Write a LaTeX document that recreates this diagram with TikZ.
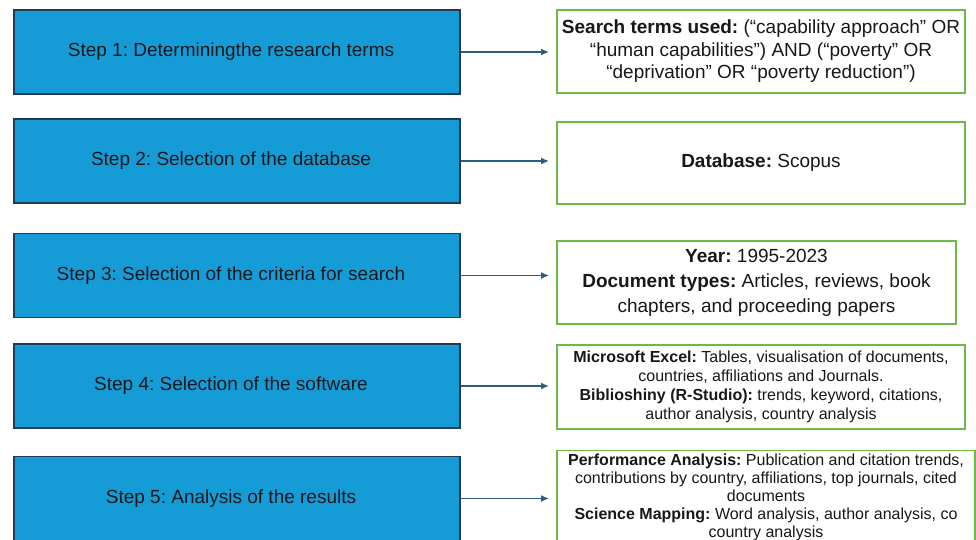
\documentclass[tikz,border=0pt]{standalone}
\usepackage{fontspec}
\setmainfont{Liberation Sans}
\usetikzlibrary{arrows.meta}
\frenchspacing

\definecolor{stepblue}{HTML}{159CD6}
\definecolor{stepedge}{HTML}{1F3B57}
\definecolor{infogreen}{HTML}{6BB947}
\definecolor{flowblue}{HTML}{2C5D80}
\definecolor{inktext}{HTML}{16181C}

\begin{document}
\begin{tikzpicture}[x=1pt, y=-1pt,
  stepbox/.style={draw=stepedge, line width=1.4pt, fill=stepblue, text=inktext,
    minimum width=446pt, minimum height=84pt, inner sep=0pt,
    font=\fontsize{19}{23}\selectfont},
  infobox/.style={draw=infogreen, line width=1.8pt, fill=white, text=inktext,
    align=center, inner sep=0pt},
  flow/.style={draw=flowblue, line width=1.6pt, shorten >=7pt,
    -{Latex[length=8pt,width=7pt]}}]
  \clip (0,0) rectangle (976,540);
  \fill[white] (0,0) rectangle (976,540);

  % Steps on the left
  \node[stepbox] (s1) at (237,52)    {Step 1: Determiningthe research terms\hspace*{12pt}};
  \node[stepbox] (s2) at (237,161)   {Step 2: Selection of the database\hspace*{12pt}};
  \node[stepbox] (s3) at (237,275.5) {Step 3: Selection of the criteria for search\hspace*{12pt}};
  \node[stepbox] (s4) at (237,386)   {Step 4: Selection of the software\hspace*{12pt}};
  \node[stepbox] (s5) at (237,498.5) {Step 5: Analysis of the results\hspace*{12pt}};

  % Details on the right
  \node[infobox, minimum width=408pt, minimum height=83pt,
        font=\fontsize{19}{22.5}\selectfont] (d1) at (761,51.5)
    {\textbf{Search terms used:} (“capability approach” OR\\
     “human capabilities”) AND (“poverty” OR\\
     “deprivation” OR “poverty reduction”)};
  \node[infobox, minimum width=408pt, minimum height=82pt,
        font=\fontsize{19}{23}\selectfont] (d2) at (761,163)
    {\textbf{Database:} Scopus};
  \node[infobox, minimum width=399pt, minimum height=83pt,
        font=\fontsize{19}{25}\selectfont] (d3) at (756.5,282.5)
    {\textbf{Year:} 1995-2023\\
     \textbf{Document types:} Articles, reviews, book\\
     chapters, and proceeding papers};
  \node[infobox, minimum width=408pt, minimum height=84pt,
        font=\fontsize{16}{19}\selectfont] (d4) at (761,387)
    {\textbf{Microsoft Excel:} Tables, visualisation of documents,\\
     countries, affiliations and Journals.\\
     \textbf{Biblioshiny (R-Studio):} trends, keyword, citations,\\
     author analysis, country analysis};
  \node[infobox, minimum width=418pt, minimum height=93pt,
        font=\fontsize{16}{18}\selectfont] (d5) at (766,497)
    {\textbf{Performance Analysis:} Publication and citation trends,\\
     contributions by country, affiliations, top journals, cited\\
     documents\\
     \textbf{Science Mapping:} Word analysis, author analysis, co\\
     country analysis};

  % Arrows from each step to its details
  \draw[flow] (s1.east) -- (s1.east -| d1.west);
  \draw[flow] (s2.east) -- (s2.east -| d2.west);
  \draw[flow] (s3.east) -- (s3.east -| d3.west);
  \draw[flow] (s4.east) -- (s4.east -| d4.west);
  \draw[flow] (s5.east) -- (s5.east -| d5.west);
\end{tikzpicture}
\end{document}
